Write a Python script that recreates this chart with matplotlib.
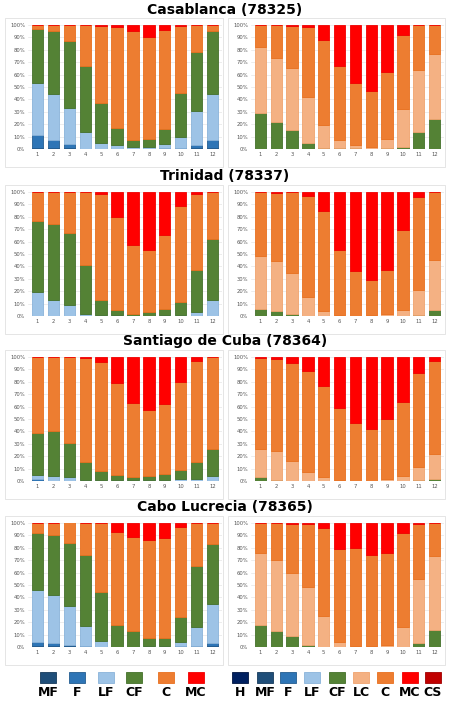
import matplotlib
matplotlib.use("Agg")
import matplotlib.pyplot as plt
from matplotlib.patches import Rectangle
import numpy as np

months = list(range(1, 13))
titles = ["Casablanca (78325)", "Trinidad (78337)", "Santiago de Cuba (78364)", "Cabo Lucrecia (78365)"]

# Left panels: MF, F, LF, CF, C, MC
casa_L = {"MF": [1,1,1,0,0,0,0,0,0,0,1,1], "F": [10,6,3,0,0,0,0,0,1,1,2,6],
          "LF": [42,37,29,14,5,3,2,2,3,9,28,37], "CF": [44,51,54,53,32,14,5,6,12,35,47,51],
          "C": [3,5,13,33,62,81,88,82,80,54,22,5], "MC": [0,0,0,0,1,2,5,10,4,1,0,0]}
trin_L = {"MF": [0]*12, "F": [0]*12,
          "LF": [19,13,9,2,1,1,0,0,1,1,3,13], "CF": [58,61,58,39,12,4,2,3,5,10,34,49],
          "C": [23,26,33,59,85,75,55,50,59,78,61,38], "MC": [0,0,0,0,2,20,43,47,35,11,2,0]}
sant_L = {"MF": [0]*12, "F": [2,0,0,0,0,0,0,0,0,0,0,0],
          "LF": [3,4,3,1,1,1,1,1,1,2,2,4], "CF": [34,36,28,14,7,4,2,3,5,7,13,22],
          "C": [61,60,69,84,88,74,60,53,56,71,82,74], "MC": [0,0,0,1,4,21,37,43,38,20,3,0]}
cabo_L = {"MF": [1,1,1,0,0,0,0,0,0,0,0,1], "F": [3,2,1,1,0,0,0,0,0,1,1,2],
          "LF": [42,39,31,16,5,0,0,1,1,3,15,32], "CF": [46,48,51,57,39,18,13,6,6,20,49,48],
          "C": [8,10,17,26,56,75,76,79,81,73,35,17], "MC": [0,0,0,0,0,7,11,14,12,3,0,0]}

# Right panels: CF, LC, C, MC
casa_R = {"CF": [29,22,15,5,1,1,1,0,1,2,14,24], "LC": [53,51,50,37,18,6,2,2,7,30,50,53],
          "C": [18,27,34,56,69,60,50,45,54,60,36,23], "MC": [0,0,1,2,12,33,47,53,38,8,0,0]}
trin_R = {"CF": [6,4,2,0,0,0,0,0,0,0,1,5], "LC": [42,40,33,15,4,1,0,1,2,5,20,40],
          "C": [52,55,65,82,81,52,36,28,35,64,75,55], "MC": [0,1,0,3,15,47,64,71,63,31,4,0]}
sant_R = {"CF": [3,1,0,0,0,0,0,0,0,0,1,2], "LC": [23,23,16,7,3,1,0,0,2,4,10,20],
          "C": [73,74,79,82,74,58,47,42,48,60,76,75], "MC": [1,2,5,11,23,41,53,58,50,36,13,3]}
cabo_R = {"CF": [18,13,9,2,0,0,0,0,0,0,3,14], "LC": [58,57,51,46,25,4,1,1,2,16,52,59],
          "C": [24,30,39,51,71,75,79,73,74,76,44,27], "MC": [0,0,1,1,4,21,20,26,24,8,1,0]}

left_data = [casa_L, trin_L, sant_L, cabo_L]
right_data = [casa_R, trin_R, sant_R, cabo_R]

colors = {"H": "#002060", "MF": "#1f4e79", "F": "#2e75b6", "LF": "#9dc3e6", "CF": "#548235",
          "LC": "#f4b183", "C": "#ed7d31", "MC": "#ff0000", "CS": "#c00000"}
edges = {"H": "#001540", "MF": "#173b5c", "F": "#245d91", "LF": "#8ab3da", "CF": "#44702a",
         "LC": "#f0a36e", "C": "#e8701f", "MC": "#f00000", "CS": "#a00000"}

W, H = 450, 703
fig = plt.figure(figsize=(W/100, H/100), dpi=100)

def fx(px): return px / W
def fy(px): return 1 - px / H

row_top = [25, 192, 357, 523]
row_title = [10, 176, 341, 507]
ah = 124

def draw(ax, data):
    ax.patch.set_alpha(0)
    ax.set_zorder(2)
    bottom = np.zeros(12)
    for k, v in data.items():
        v = np.array(v, float)
        ax.bar(months, v, bottom=bottom, width=0.72, color=colors[k], edgecolor=edges[k], linewidth=0.6, zorder=3)
        bottom += v
    ax.set_ylim(0, 100)
    ax.set_xlim(0.4, 12.6)
    ax.set_yticks(range(0, 101, 10))
    ax.set_yticklabels([f"{t}%" for t in range(0, 101, 10)])
    ax.set_xticks(months)
    ax.tick_params(labelsize=3.8, colors="#555555", length=0, pad=2)
    ax.grid(axis="y", color="#e6e6e6", linewidth=0.5, zorder=0)
    for s in ax.spines.values():
        s.set_visible(False)

for i in range(4):
    fig.text(0.5, fy(row_title[i]), titles[i], ha="center", va="center", fontsize=10, fontweight="bold")
    for x0, x1 in [(5, 223), (228, 445)]:
        fig.patches.append(Rectangle((fx(x0), fy(row_top[i] + ah + 18)), fx(x1 - x0), (ah + 25) / H,
                                     transform=fig.transFigure, facecolor="none", edgecolor="#e0e0e0",
                                     linewidth=0.6, zorder=-5))
    axL = fig.add_axes([fx(28), fy(row_top[i] + ah), fx(194), ah / H])
    draw(axL, left_data[i])
    axR = fig.add_axes([fx(251), fy(row_top[i] + ah), fx(193), ah / H])
    draw(axR, right_data[i])

legL = ["MF", "F", "LF", "CF", "C", "MC"]
xs = [48, 77, 106, 134, 166, 196]
for k, x in zip(legL, xs):
    fig.patches.append(Rectangle((fx(x - 8), fy(683)), fx(16), 11 / H, transform=fig.transFigure,
                                 facecolor=colors[k], edgecolor=edges[k], linewidth=0.6))
    fig.text(fx(x), fy(693), k, ha="center", va="center", fontsize=9, fontweight="bold")
legR = ["H", "MF", "F", "LF", "CF", "LC", "C", "MC", "CS"]
xs = [240, 265, 288, 312, 337, 361, 385, 410, 433]
for k, x in zip(legR, xs):
    fig.patches.append(Rectangle((fx(x - 8), fy(683)), fx(16), 11 / H, transform=fig.transFigure,
                                 facecolor=colors[k], edgecolor=edges[k], linewidth=0.6))
    fig.text(fx(x), fy(693), k, ha="center", va="center", fontsize=9, fontweight="bold")

fig.savefig("out.png", dpi=100, facecolor="white")
